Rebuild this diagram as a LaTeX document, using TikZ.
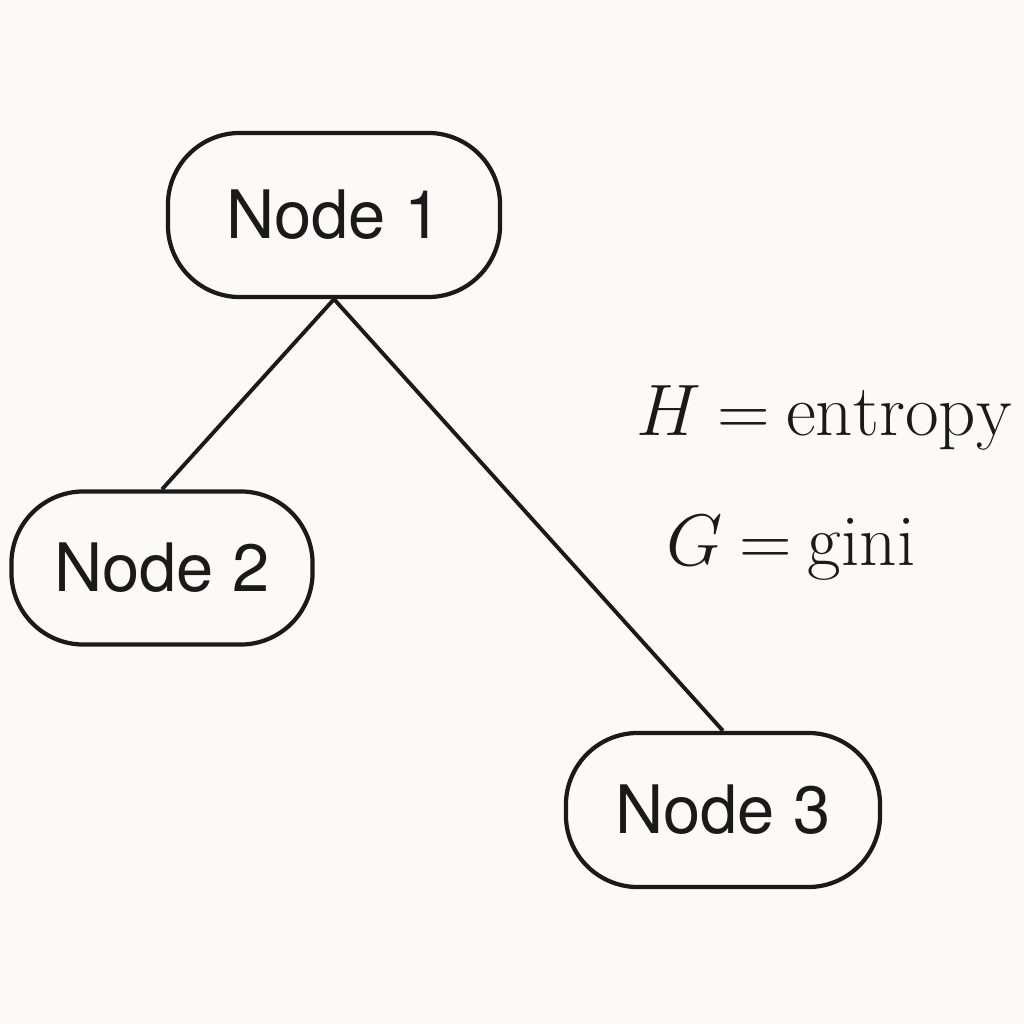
\documentclass[tikz,border=0pt]{standalone}
\usepackage{fontspec}
\newfontfamily\nodefont{TeX Gyre Heros}
\definecolor{bgc}{HTML}{FBFAF7}
\definecolor{ink}{HTML}{1A1A1A}
\begin{document}
\begin{tikzpicture}[x=0.01cm,y=-0.01cm,
  pill/.style={draw=ink, line width=1.2pt, rounded corners=0.72cm, text=ink,
    font=\nodefont\fontsize{19}{22}\selectfont, inner sep=0pt},
  edge/.style={draw=ink, line width=1.1pt},
  lbl/.style={text=ink, font=\fontsize{20.8}{24}\selectfont, inner sep=0pt}]
\fill[bgc] (0,0) rectangle (1024,1024);
\useasboundingbox (0,0) rectangle (1024,1024);
\node[pill, minimum width=3.32cm, minimum height=1.64cm] (n1) at (334,215) {Node 1};
\node[pill, minimum width=3.01cm, minimum height=1.53cm] (n2) at (162,568) {Node 2};
\node[pill, minimum width=3.14cm, minimum height=1.54cm] (n3) at (723,810) {Node 3};
\draw[edge] (n1.south) -- (n2.north);
\draw[edge] (n1.south) -- (n3.north);
\node[lbl] (h) at (824,418) {$H\mskip4mu{=}\mskip4mu\mathrm{entropy}$};
\node[lbl] (g) at (791,548) {$G\mskip4mu{=}\mskip4mu\mathrm{gini}$};
\end{tikzpicture}
\end{document}
